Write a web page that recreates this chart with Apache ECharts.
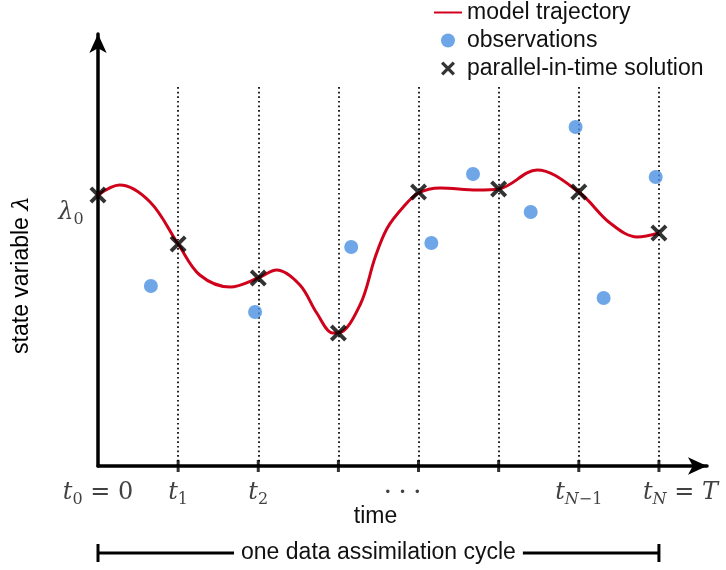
<!DOCTYPE html>
<html><head><meta charset="utf-8">
<script src="https://cdn.jsdelivr.net/npm/echarts@6/dist/echarts.min.js"></script>
<style>html,body{margin:0;padding:0;background:#fff}#c{width:726px;height:570px}</style>
</head><body><div id="c"></div>
<script>
// ---- data (x in units of time steps t_i, y in arbitrary state units) ----
const ticks = [0, 1, 2, 3, 4, 5, 6, 7];
const solutionX = [0, 1, 2, 3, 4, 5, 6, 7];
const solutionY = [271, 222, 188, 133, 274, 277, 274, 233];
const obsX = [0.66, 1.96, 3.16, 4.16, 4.68, 5.40, 5.96, 6.31, 6.96];
const obsY = [180, 154, 219, 223, 292, 254, 339, 168, 289];
const curveX = [0, 0.27, 0.65, 1, 1.27, 1.65, 2, 2.23, 2.52, 2.73, 2.93, 3, 3.27, 3.46, 3.61, 3.81, 4, 4.27, 4.73, 5, 5.48, 6, 6.39, 6.73, 7];
const curveY = [271, 281, 264, 222, 191, 179, 188, 196, 181, 153, 133, 133, 161, 209, 238, 259, 273, 278, 276, 277, 296, 274, 243, 229, 233];
const tickLabelPos = [0, 1, 2, 3.8, 6, 7];
const tickLabelText = ['{m|t}{s|0}{r| = 0}', '{m|t}{s|1}', '{m|t}{s|2}', '{d|•  •  •}', '{m|t}{si|N}{s|−1}', '{m|t}{si|N}{r| = }{m|T}'];
const lambda0 = 271;
const dottedTop = 381;
const legendNames = ['model trajectory', 'observations', 'parallel-in-time solution'];

const RED = '#d0021b', BLUE = '#4a90e2', INK = '#111';
const X_PATH = 'path://M0,2.6L2.6,0L8,5.4L13.4,0L16,2.6L10.6,8L16,13.4L13.4,16L8,10.6L2.6,16L0,13.4L5.4,8Z';
const SANS = 'Liberation Sans';
const rich = {
  m: {fontFamily: 'DejaVu Serif', fontStyle: 'italic', fontSize: 24, lineHeight: 30, color: INK},
  r: {fontFamily: 'DejaVu Serif', fontSize: 24, lineHeight: 30, color: INK},
  s: {fontFamily: 'DejaVu Serif', fontSize: 16, lineHeight: 16, verticalAlign: 'bottom', color: INK},
  si: {fontFamily: 'DejaVu Serif', fontStyle: 'italic', fontSize: 16, lineHeight: 16, verticalAlign: 'bottom', color: INK},
  d: {fontFamily: 'DejaVu Sans', fontSize: 12, lineHeight: 30, color: INK}
};

const chart = echarts.init(document.getElementById('c'), null, {renderer: 'canvas'});
const axisLine = {show: true, symbol: ['none', 'arrow'], symbolSize: [13, 19], lineStyle: {color: '#000', width: 3.5}};
const last = tickLabelPos.length - 1;
const labelItems = tickLabelPos.map((x, i) => ({
  value: [x, 0],
  label: {formatter: tickLabelText[i], align: i === last ? 'left' : 'center', offset: i === last ? [-16, 27] : [0, 27]}
}));
labelItems.push({value: [0, lambda0], label: {formatter: '{m|λ}{s|0}', align: 'center', offset: [-27, 18]}});

const option = {
  animation: false,
  backgroundColor: '#fff',
  grid: {left: 98, right: 19, top: 34, bottom: 104},
  xAxis: {type: 'value', min: 0, max: 7.6, axisLine: axisLine, axisTick: {show: false}, axisLabel: {show: false}, splitLine: {show: false}},
  yAxis: {type: 'value', min: 0, max: 432, axisLine: axisLine, axisTick: {show: false}, axisLabel: {show: false}, splitLine: {show: false}},
  legend: {
    orient: 'vertical', left: 433, top: 1, itemGap: 5, itemWidth: 28, itemHeight: 14, padding: 0,
    selectedMode: false,
    data: [
      {name: legendNames[0], itemStyle: {opacity: 0}},
      {name: legendNames[1]},
      {name: legendNames[2]}
    ],
    textStyle: {fontFamily: SANS, fontSize: 23, color: INK}
  },
  series: [
    {
      type: 'line', name: 'guides', data: [], z: 1, silent: true,
      markLine: {
        silent: true, symbol: ['none', 'none'], label: {show: false},
        lineStyle: {color: '#000', width: 1.7, type: [1.7, 2.9]},
        data: ticks.slice(1).map(t => [{coord: [t, 0]}, {coord: [t, dottedTop]}])
      }
    },
    {
      type: 'scatter', name: 'ticks', z: 3, clip: false, silent: true,
      symbol: 'rect', symbolSize: [3, 12], itemStyle: {color: '#000'},
      data: ticks.slice(1).map(t => [t, 0])
    },
    {
      type: 'line', name: legendNames[0], z: 4, smooth: 0.35, symbol: 'none', showSymbol: false,
      lineStyle: {color: RED, width: 3}, itemStyle: {color: RED},
      data: curveX.map((x, i) => [x, curveY[i]])
    },
    {
      type: 'scatter', name: legendNames[1], z: 5, symbol: 'circle', symbolSize: 14,
      itemStyle: {color: BLUE},
      data: obsX.map((x, i) => [x, obsY[i]])
    },
    {
      type: 'scatter', name: legendNames[2], z: 6, symbol: X_PATH, symbolSize: 17, clip: false,
      itemStyle: {color: '#000'},
      data: solutionX.map((x, i) => [x, solutionY[i]])
    },
    {
      type: 'scatter', name: 'labels', z: 7, clip: false, silent: true, symbolSize: 1,
      itemStyle: {color: 'rgba(0,0,0,0)'},
      label: {show: true, position: 'inside', verticalAlign: 'middle', rich: rich},
      data: labelItems
    }
  ]
};
chart.setOption(option);

const p0 = chart.convertToPixel({xAxisIndex: 0}, ticks[0]);
const pN = chart.convertToPixel({xAxisIndex: 0}, ticks[ticks.length - 1]);
const mid = (p0 + pN) / 2;
const by = 553;
chart.setOption({
  graphic: [
    {type: 'text', x: 22, y: 275, rotation: Math.PI / 2, style: {
      text: '{a|state variable }{l|λ}', align: 'center', verticalAlign: 'middle',
      rich: {a: {fontFamily: SANS, fontSize: 23, color: INK}, l: {fontFamily: 'DejaVu Serif', fontStyle: 'italic', fontSize: 23, color: INK}}
    }},
    {type: 'text', x: mid - 3, y: 517, style: {text: 'time', fontFamily: SANS, fontSize: 23, fill: INK, align: 'center', verticalAlign: 'middle'}},
    {type: 'line', shape: {x1: p0, y1: by, x2: pN, y2: by}, style: {stroke: '#000', lineWidth: 3}},
    {type: 'line', shape: {x1: p0, y1: by - 9, x2: p0, y2: by + 9}, style: {stroke: '#000', lineWidth: 3}},
    {type: 'line', shape: {x1: pN, y1: by - 9, x2: pN, y2: by + 9}, style: {stroke: '#000', lineWidth: 3}},
    {type: 'text', x: mid, y: by, z: 10, style: {
      text: 'one data assimilation cycle', fontFamily: SANS, fontSize: 23, fill: INK,
      align: 'center', verticalAlign: 'middle', backgroundColor: '#fff', padding: [2, 7]
    }}
  ]
});
</script></body></html>
